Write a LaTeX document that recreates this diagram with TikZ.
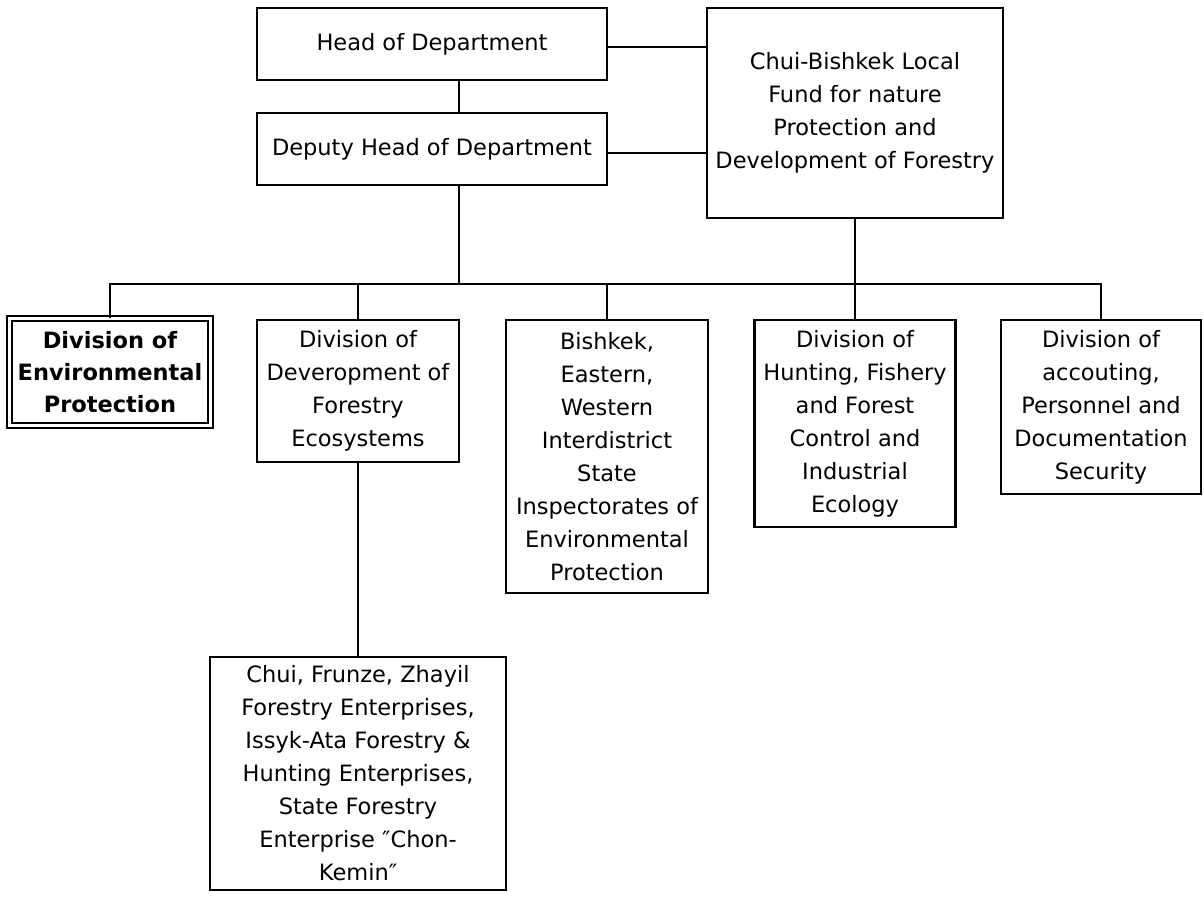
\documentclass[tikz,border=0pt]{standalone}
\usepackage{fontspec}
\setmainfont{DejaVu Sans}
\begin{document}
\begin{tikzpicture}[x=1pt,y=-1pt,
  box/.style={draw, line width=2.8pt, align=center, inner sep=0pt,
    font=\fontsize{22.5}{33}\selectfont},
  link/.style={line width=2.8pt},
  dbox/.style={draw, double, line width=2pt, double distance=2.6pt, align=center, inner sep=0pt,
    font=\fontsize{22.5}{32}\selectfont\bfseries}]
\useasboundingbox (0,0) rectangle (1204,897);
\node[box, minimum width=350pt, minimum height=72pt] (head) at (432,44) {Head of Department};
\node[box, minimum width=350pt, minimum height=72pt] (deputy) at (432,149) {Deputy Head of Department};
\node[box, minimum width=296pt, minimum height=210pt] (fund) at (855,113)
  {Chui-Bishkek Local\\Fund for nature\\Protection and\\Development of Forestry};
\node[dbox, minimum width=201pt, minimum height=107pt] (env) at (110,372)
  {Division of\\Environmental\\Protection};
\node[box, minimum width=202pt, minimum height=142pt] (dev) at (358,391)
  {Division of\\Deveropment of\\Forestry\\Ecosystems};
\node[box, minimum width=202pt, minimum height=273pt] (bish) at (607,456.5)
  {Bishkek,\\Eastern,\\Western\\Interdistrict\\State\\Inspectorates of\\Environmental\\Protection};
\node[box, minimum width=201pt, minimum height=207pt] (hunt) at (855,423.5)
  {Division of\\Hunting, Fishery\\and Forest\\Control and\\Industrial\\Ecology};
\node[box, minimum width=200pt, minimum height=174pt] (acc) at (1101,407)
  {Division of\\accouting,\\Personnel and\\Documentation\\Security};
\node[box, minimum width=296pt, minimum height=233pt] (bot) at (358,773.5)
  {Chui, Frunze, Zhayil\\Forestry Enterprises,\\Issyk-Ata Forestry \&\\Hunting Enterprises,\\State Forestry\\Enterprise ″Chon-\\Kemin″};
\coordinate (bus) at (0,284);
\coordinate (hd) at (459,0);
\draw[link] (head.south -| hd) -- (deputy.north -| hd);
\draw[link] (deputy.south -| hd) -- (bus -| hd);
\draw[link] ([yshift=-3pt]head.east) -- ([yshift=-3pt]head.east -| fund.west);
\draw[link] ([yshift=-4pt]deputy.east) -- ([yshift=-4pt]deputy.east -| fund.west);
\draw[link] (fund.south) -- (bus -| fund.south);
\draw[link, line cap=rect] (bus -| env.north) -- (bus -| acc.north);
\foreach \n in {env,dev,bish,hunt,acc} {
  \draw[link] (\n.north) -- (bus -| \n.north);
}
\draw[link] (dev.south) -- (bot.north);
\end{tikzpicture}
\end{document}
